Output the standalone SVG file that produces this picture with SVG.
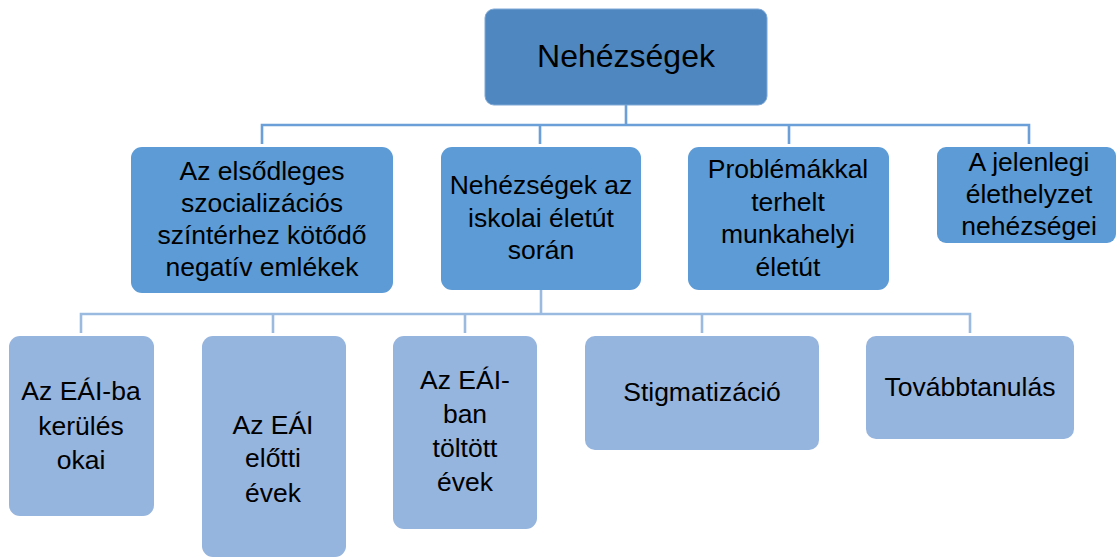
<svg xmlns="http://www.w3.org/2000/svg" width="1118" height="558" viewBox="0 0 1118 558">
<style>
.t{font-family:"Liberation Sans",Arial,sans-serif;fill:#000;text-anchor:middle}
.l1{font-size:26.5px}
.root{fill:#4F88C0;stroke:#7FA8D6;stroke-width:1}
.n2{fill:#5C9BD5}
.n3{fill:#95B4DE}
.c1{stroke:#6A9FD8;stroke-width:2.6;fill:none}
.c2{stroke:#9BBAE0;stroke-width:2.6;fill:none}
</style>
<rect width="1118" height="558" fill="#fff"/>
<g id="connectors">
<path class="c1" d="M626 105V125M262 144V125H1029V144M540 125V144M789 125V144"/>
<path class="c2" d="M541 290V314M81 333V314H970V333M273 314V333M465 314V333M702 314V333"/>
</g>
<g id="root">
<rect class="root" x="485" y="9" width="282" height="96" rx="9"/>
<text class="t" x="626" y="67" font-size="32">Nehézségek</text>
</g>
<g id="n-elsodleges">
<rect class="n2" x="131" y="147" width="262" height="146" rx="11"/>
<text class="t l1" x="262" y="180">Az elsődleges</text>
<text class="t l1" x="262" y="212">szocializációs</text>
<text class="t l1" x="262" y="244">színtérhez kötődő</text>
<text class="t l1" x="262" y="276">negatív emlékek</text>
</g>
<g id="n-iskolai">
<rect class="n2" x="441" y="147" width="200" height="143" rx="11"/>
<text class="t l1" x="541" y="194">Nehézségek az</text>
<text class="t l1" x="541" y="227">iskolai életút</text>
<text class="t l1" x="541" y="259">során</text>
</g>
<g id="n-munkahelyi">
<rect class="n2" x="688" y="147" width="201" height="143" rx="11"/>
<text class="t l1" x="788" y="178">Problémákkal</text>
<text class="t l1" x="788" y="211">terhelt</text>
<text class="t l1" x="788" y="243">munkahelyi</text>
<text class="t l1" x="788" y="276">életút</text>
</g>
<g id="n-jelenlegi">
<rect class="n2" x="937" y="147" width="179" height="96" rx="9"/>
<text class="t l1" x="1029" y="171">A jelenlegi</text>
<text class="t l1" x="1029" y="203">élethelyzet</text>
<text class="t l1" x="1029" y="235">nehézségei</text>
</g>
<g id="n-okai">
<rect class="n3" x="9" y="336" width="145" height="180" rx="11"/>
<text class="t l1" x="81" y="400">Az EÁI-ba</text>
<text class="t l1" x="81" y="435">kerülés</text>
<text class="t l1" x="81" y="469">okai</text>
</g>
<g id="n-elotti">
<rect class="n3" x="202" y="336" width="144" height="221" rx="11"/>
<text class="t l1" x="273" y="434">Az EÁI</text>
<text class="t l1" x="273" y="467">előtti</text>
<text class="t l1" x="273" y="502">évek</text>
</g>
<g id="n-toltott">
<rect class="n3" x="393" y="336" width="144" height="193" rx="11"/>
<text class="t l1" x="465" y="389">Az EÁI-</text>
<text class="t l1" x="465" y="423">ban</text>
<text class="t l1" x="465" y="457">töltött</text>
<text class="t l1" x="465" y="491">évek</text>
</g>
<g id="n-stigma">
<rect class="n3" x="585" y="336" width="234" height="114" rx="10"/>
<text class="t l1" x="702" y="401">Stigmatizáció</text>
</g>
<g id="n-tovabb">
<rect class="n3" x="866" y="336" width="208" height="103" rx="10"/>
<text class="t l1" x="970" y="396">Továbbtanulás</text>
</g>
</svg>
